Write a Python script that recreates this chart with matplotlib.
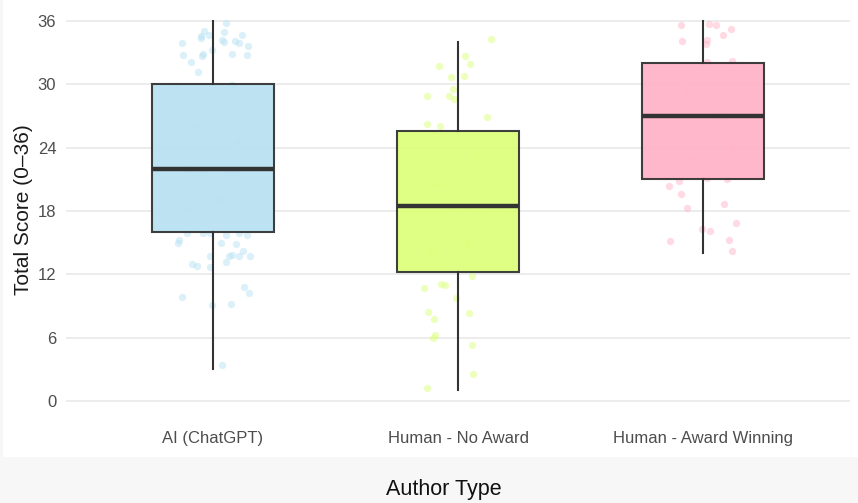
import numpy as np
import matplotlib
matplotlib.use("Agg")
import matplotlib.pyplot as plt
from matplotlib.patches import Rectangle

plt.rcParams['font.family'] = ['Liberation Sans', 'DejaVu Sans']

# ------------------------------------------------------------
# Daten
# ------------------------------------------------------------
groups = ['AI (ChatGPT)', 'Human - No Award', 'Human - Award Winning']
fills = ['#B9E2F3', '#DDFF7C', '#FFB4C8']

# Box-Kennwerte je Gruppe
q1 = [16.0, 12.2, 21.0]
median = [22.0, 18.5, 27.0]
q3 = [30.0, 25.6, 32.0]
whisker_lo = [3.0, 1.0, 14.0]
whisker_hi = [36.0, 34.0, 36.0]

# Einzelwerte (Score) und horizontale Streuung (jitter)
ai_scores = [33.9, 32.8, 32.1, 31.2, 32.7, 32.9, 34.4, 35.1, 34.7, 34.6, 33.3,
             35.8, 35.0, 34.2, 34.0, 34.1, 33.9, 34.7, 33.6, 32.8, 32.9,
             29.8, 29.9, 22.0, 21.8, 21.8, 21.9, 26.0, 24.5, 19.0, 18.2,
             15.9, 15.9, 15.9, 15.7, 15.9, 15.75,
             15.0, 15.25, 15.0, 14.9, 13.7, 13.8, 13.7, 13.7, 14.2, 13.7,
             13.2, 13.0, 12.8, 12.7, 10.8, 10.2, 9.9, 9.1, 9.2, 3.4]
ai_jitter = [-0.125, -0.122, -0.090, -0.062, -0.046, -0.040, -0.050, -0.038, -0.016, -0.048, -0.003,
             0.052, 0.046, 0.035, 0.045, 0.090, 0.107, 0.117, 0.142, 0.139, 0.079,
             -0.146, 0.079, -0.105, -0.046, 0.065, 0.093, -0.060, 0.100, 0.020, -0.110,
             -0.105, -0.040, -0.012, 0.053, 0.107, 0.137,
             -0.142, -0.138, 0.033, 0.093, -0.012, 0.076, 0.065, 0.107, 0.124, 0.151,
             0.054, -0.087, -0.065, -0.014, 0.125, 0.148, -0.128, -0.004, 0.072, 0.035]

no_award_scores = [34.3, 32.7, 31.9, 31.7, 30.7, 30.8, 29.6, 28.9, 28.9, 28.6,
                   26.9, 26.2, 26.1, 23.0, 20.5, 15.0, 14.0,
                   18.3, 18.4, 18.3, 18.2,
                   11.8, 10.7, 11.1, 11.0, 9.8, 8.4, 7.8, 8.3, 6.3, 6.0,
                   5.3, 2.6, 1.2]
no_award_jitter = [0.135, 0.029, 0.050, -0.076, -0.029, 0.024, -0.020, -0.127, -0.037, -0.015,
                   0.117, -0.127, -0.073, 0.080, -0.090, 0.040, -0.110,
                   -0.033, 0.035, 0.045, 0.148,
                   0.058, -0.138, -0.069, -0.055, -0.009, -0.122, -0.100, 0.045, -0.094, -0.104,
                   0.058, 0.061, -0.128]

award_scores = [35.6, 35.7, 35.6, 35.2, 34.7, 34.1, 34.2, 33.8, 32.1, 32.2,
                27.2, 26.8, 29.5, 24.0, 23.0,
                20.8, 21.1, 21.0, 20.4, 19.6, 18.7, 18.3, 16.9, 16.3, 16.1,
                15.2, 15.25, 14.2]
award_jitter = [-0.088, 0.026, 0.054, 0.114, 0.082, -0.084, 0.015, 0.011, 0.015, 0.117,
                0.042, 0.086, -0.070, 0.120, -0.040,
                -0.098, 0.017, 0.099, -0.138, -0.090, 0.087, -0.065, 0.133, -0.005, 0.029,
                -0.135, 0.107, 0.117]

scores = [ai_scores, no_award_scores, award_scores]
jitters = [ai_jitter, no_award_jitter, award_jitter]

# ------------------------------------------------------------
# Plot
# ------------------------------------------------------------
fig = plt.figure(figsize=(8.58, 5.03), dpi=100, facecolor='#F7F7F7')
fig.add_artist(Rectangle((3 / 858, 1 - 457 / 503), 1, 457 / 503,
                         transform=fig.transFigure, facecolor='white',
                         edgecolor='none', zorder=0))

ax = fig.add_axes([66 / 858, 1 - 420 / 503, 784 / 858, 420 / 503])
ax.set_facecolor('none')

pos = np.arange(1, len(groups) + 1)

# Punkte (hinter den Boxen)
for i, (s, j) in enumerate(zip(scores, jitters)):
    ax.scatter(pos[i] + np.array(j), s, s=28, color=fills[i], alpha=0.5,
               linewidths=0, zorder=2)

stats = []
for i in range(len(groups)):
    stats.append(dict(med=median[i], q1=q1[i], q3=q3[i],
                      whislo=whisker_lo[i], whishi=whisker_hi[i], fliers=[]))

bp = ax.bxp(stats, positions=pos, widths=0.5, patch_artist=True,
            showcaps=False, showfliers=False,
            boxprops=dict(edgecolor='#333333', linewidth=1.5),
            whiskerprops=dict(color='#333333', linewidth=1.5),
            medianprops=dict(color='#333333', linewidth=3.2, solid_capstyle='butt'),
            zorder=3)
for patch, c in zip(bp['boxes'], fills):
    patch.set_facecolor(c)
    patch.set_alpha(0.94)
    patch.set_edgecolor('#333333')

ax.set_xlim(0.4, 3.6)
ax.set_ylim(-1.8, 37.99)
ax.set_yticks([0, 6, 12, 18, 24, 30, 36])
ax.set_xticks(pos)
ax.set_xticklabels(groups)
ax.yaxis.grid(True, color='#EBEBEB', linewidth=1.3, zorder=0)
ax.set_axisbelow(True)
for sp in ax.spines.values():
    sp.set_visible(False)
ax.tick_params(axis='both', length=0, labelsize=12, labelcolor='#4D4D4D')
ax.tick_params(axis='y', pad=7)
ax.tick_params(axis='x', pad=8)

ax.set_ylabel('Total Score (0\u201336)', fontsize=15, color='#1A1A1A', labelpad=3)
fig.text(444 / 858, 1 - 490 / 503, 'Author Type', fontsize=15.5, color='#111111',
         ha='center', va='center')

plt.savefig('out.png', dpi=100, facecolor=fig.get_facecolor())
